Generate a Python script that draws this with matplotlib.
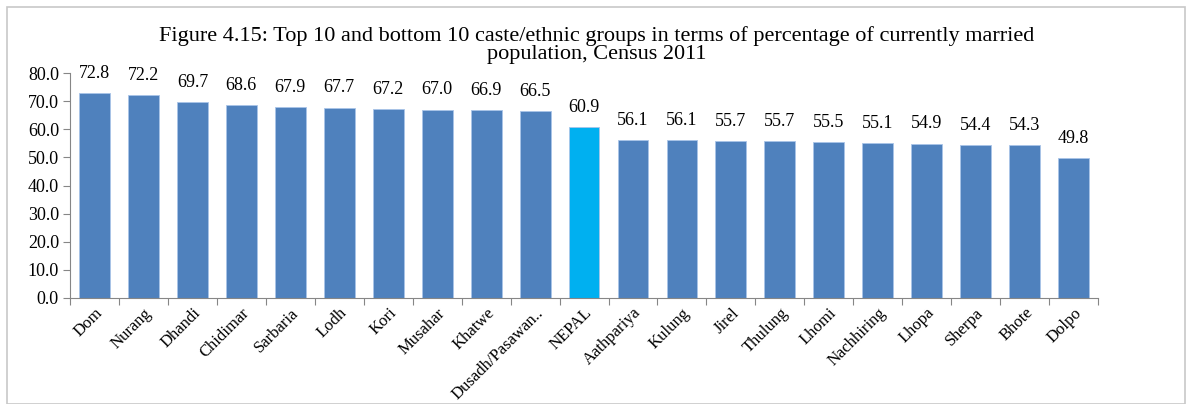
import numpy as np
import matplotlib
matplotlib.use('Agg')
import matplotlib.pyplot as plt
from matplotlib.patches import Rectangle

groups = ['Dom', 'Nurang', 'Dhandi', 'Chidimar', 'Sarbaria', 'Lodh', 'Kori', 'Musahar',
          'Khatwe', 'Dusadh/Pasawan..', 'NEPAL', 'Aathpariya', 'Kulung', 'Jirel', 'Thulung',
          'Lhomi', 'Nachhiring', 'Lhopa', 'Sherpa', 'Bhote', 'Dolpo']
married_pct = [72.8, 72.2, 69.7, 68.6, 67.9, 67.7, 67.2, 67.0, 66.9, 66.5, 60.9,
               56.1, 56.1, 55.7, 55.7, 55.5, 55.1, 54.9, 54.4, 54.3, 49.8]

plt.rcParams['font.family'] = ['Liberation Serif', 'DejaVu Serif']

fig = plt.figure(figsize=(11.93, 4.04), dpi=100)
ax = fig.add_axes([0.0587, 0.2624, 0.8617, 0.5566])

# outer chart border
fig.patches.append(Rectangle((7 / 1193, 0.0), 1178 / 1193, 1 - 7 / 404, transform=fig.transFigure,
                             fill=False, edgecolor='#c8c8c8', linewidth=1.2))

x = np.arange(len(groups))
colors = ['#00B0F0' if g == 'NEPAL' else '#4F81BD' for g in groups]
ax.bar(x, married_pct, width=0.63, color=colors, edgecolor='#a9c4e8', linewidth=0.6)

for xi, v in zip(x, married_pct):
    ax.text(xi, v + 4.0, '%.1f' % v, ha='center', va='bottom', fontsize=13)

ax.set_xlim(-0.5, len(groups) - 0.5)
ax.set_ylim(0, 80)
ax.set_yticks(np.arange(0, 81, 10))
ax.set_yticklabels(['%.1f' % t for t in np.arange(0, 81, 10)], fontsize=13)

ax.set_xticks(np.arange(-0.5, len(groups), 1.0))
ax.set_xticklabels([])
ax.set_xticks(x, minor=True)
ax.set_xticklabels(groups, minor=True, rotation=45, ha='right', rotation_mode='anchor', fontsize=12)
ax.tick_params(axis='x', which='minor', length=0, pad=5)
ax.tick_params(axis='x', which='major', length=5, color='#868686')
ax.tick_params(axis='y', length=5, color='#868686', pad=3)

for s in ['top', 'right']:
    ax.spines[s].set_visible(False)
for s in ['left', 'bottom']:
    ax.spines[s].set_color('#868686')

fig.text(0.5, 0.888, 'Figure 4.15: Top 10 and bottom 10 caste/ethnic groups in terms of percentage of currently married\npopulation, Census 2011',
         ha='center', va='center', fontsize=16, linespacing=0.95)

fig.savefig('out.png', dpi=100)
